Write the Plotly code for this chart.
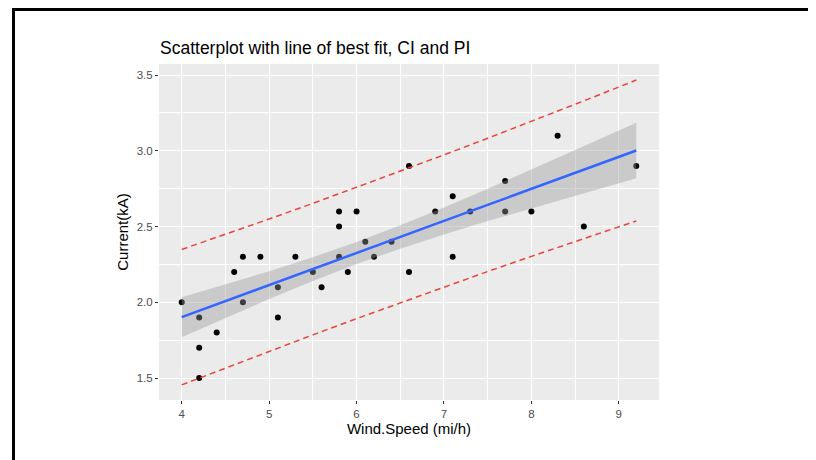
import plotly.graph_objects as go

# Observed data
wind_speed = [4.0, 4.2, 4.2, 4.2, 4.4, 4.6, 4.7, 4.7, 4.9, 5.1, 5.1, 5.3, 5.5, 5.6,
              5.8, 5.8, 5.8, 5.9, 6.0, 6.1, 6.2, 6.4, 6.6, 6.6, 6.9, 7.1, 7.1, 7.3,
              7.7, 7.7, 8.0, 8.3, 8.6, 9.2]
current = [2.0, 1.9, 1.7, 1.5, 1.8, 2.2, 2.3, 2.0, 2.3, 2.1, 1.9, 2.3, 2.2, 2.1,
           2.3, 2.5, 2.6, 2.2, 2.6, 2.4, 2.3, 2.4, 2.9, 2.2, 2.6, 2.7, 2.3, 2.6,
           2.8, 2.6, 2.6, 3.1, 2.5, 2.9]

# Fitted line, confidence band and prediction band
band_x = [4.0, 4.5, 5.0, 5.5, 6.0, 6.5, 7.0, 7.5, 8.0, 8.5, 9.0, 9.2]
fit_y = [1.902, 2.007, 2.113, 2.219, 2.325, 2.431, 2.537, 2.643, 2.748, 2.854, 2.960, 3.002]
ci_lo = [1.770, 1.896, 2.021, 2.140, 2.252, 2.354, 2.448, 2.536, 2.620, 2.704, 2.786, 2.818]
ci_hi = [2.034, 2.118, 2.205, 2.298, 2.398, 2.508, 2.626, 2.750, 2.876, 3.005, 3.134, 3.186]
pi_lo = [1.455, 1.566, 1.676, 1.785, 1.892, 1.997, 2.101, 2.203, 2.303, 2.402, 2.499, 2.537]
pi_hi = [2.349, 2.448, 2.550, 2.653, 2.758, 2.865, 2.973, 3.083, 3.193, 3.307, 3.421, 3.467]

x_ticks = [4, 5, 6, 7, 8, 9]
y_ticks = [1.5, 2.0, 2.5, 3.0, 3.5]
y_tick_labels = ["1.5", "2.0", "2.5", "3.0", "3.5"]

FONT = "Liberation Sans, Arial, Helvetica, sans-serif"

fig = go.Figure()

fig.add_trace(go.Scatter(x=wind_speed, y=current, mode="markers",
                         marker=dict(color="black", size=6), showlegend=False))
fig.add_trace(go.Scatter(x=band_x, y=ci_lo, mode="lines", line=dict(width=0, color="rgba(0,0,0,0)"),
                         showlegend=False, hoverinfo="skip"))
fig.add_trace(go.Scatter(x=band_x, y=ci_hi, mode="lines", line=dict(width=0, color="rgba(0,0,0,0)"),
                         fill="tonexty", fillcolor="rgba(153,153,153,0.4)",
                         showlegend=False, hoverinfo="skip"))
fig.add_trace(go.Scatter(x=band_x, y=fit_y, mode="lines",
                         line=dict(color="#3366FF", width=2.5), showlegend=False))
fig.add_trace(go.Scatter(x=band_x, y=pi_lo, mode="lines",
                         line=dict(color="#E8453C", width=1.5, dash="6px,4px"), showlegend=False))
fig.add_trace(go.Scatter(x=band_x, y=pi_hi, mode="lines",
                         line=dict(color="#E8453C", width=1.5, dash="6px,4px"), showlegend=False))

# Page has an 8px body margin; figure sized to fit the window.
OFF = 8
W, H = 816 - OFF, 460 - OFF
# plot area in window pixels: x 159..659, y 64..400
L, T = 159 - OFF, 64 - OFF
pw, ph = 500, 336
R, B = W - L - pw, H - T - ph


def px(xw):
    return (xw - OFF - L) / pw


def py(yw):
    return (T + ph - (yw - OFF)) / ph


fig.update_layout(
    width=W, height=H,
    margin=dict(l=L, r=R, t=T, b=B, pad=0),
    paper_bgcolor="white",
    plot_bgcolor="#EBEBEB",
    font=dict(family=FONT, color="black"),
    title=dict(text="Scatterplot with line of best fit, CI and PI",
               xref="container", yref="container",
               x=(160 - OFF) / W, xanchor="left", y=1 - (48 - OFF) / H, yanchor="middle",
               font=dict(size=17.5, color="black", family=FONT)),
    xaxis=dict(range=[3.74, 9.46], tickvals=x_ticks, ticktext=[str(v) for v in x_ticks],
               showgrid=True, gridcolor="white", gridwidth=1.4, zeroline=False,
               ticks="outside", ticklen=3, tickcolor="#333333", tickwidth=1,
               tickfont=dict(size=11.5, color="#4D4D4D"),
               minor=dict(tickvals=[4.5, 5.5, 6.5, 7.5, 8.5], showgrid=True,
                          gridcolor="white", gridwidth=0.7, ticks=""),
               title=dict(text="Wind.Speed (mi/h)", font=dict(size=15, color="black"), standoff=3),
               showline=False),
    yaxis=dict(range=[1.355, 3.573], tickvals=y_ticks, ticktext=y_tick_labels,
               showgrid=True, gridcolor="white", gridwidth=1.4, zeroline=False,
               ticks="outside", ticklen=3, tickcolor="#333333", tickwidth=1,
               tickfont=dict(size=11.5, color="#4D4D4D"),
               minor=dict(tickvals=[1.75, 2.25, 2.75, 3.25], showgrid=True,
                          gridcolor="white", gridwidth=0.7, ticks=""),
               title=dict(text="Current(kA)", font=dict(size=15, color="black"), standoff=4),
               showline=False),
    shapes=[
        dict(type="line", xref="paper", yref="paper", x0=px(12), x1=px(816),
             y0=py(9.5), y1=py(9.5), line=dict(color="black", width=3)),
        dict(type="line", xref="paper", yref="paper", x0=px(13.5), x1=px(13.5),
             y0=py(8), y1=py(460), line=dict(color="black", width=3)),
    ],
)

fig.write_html("out.html")
